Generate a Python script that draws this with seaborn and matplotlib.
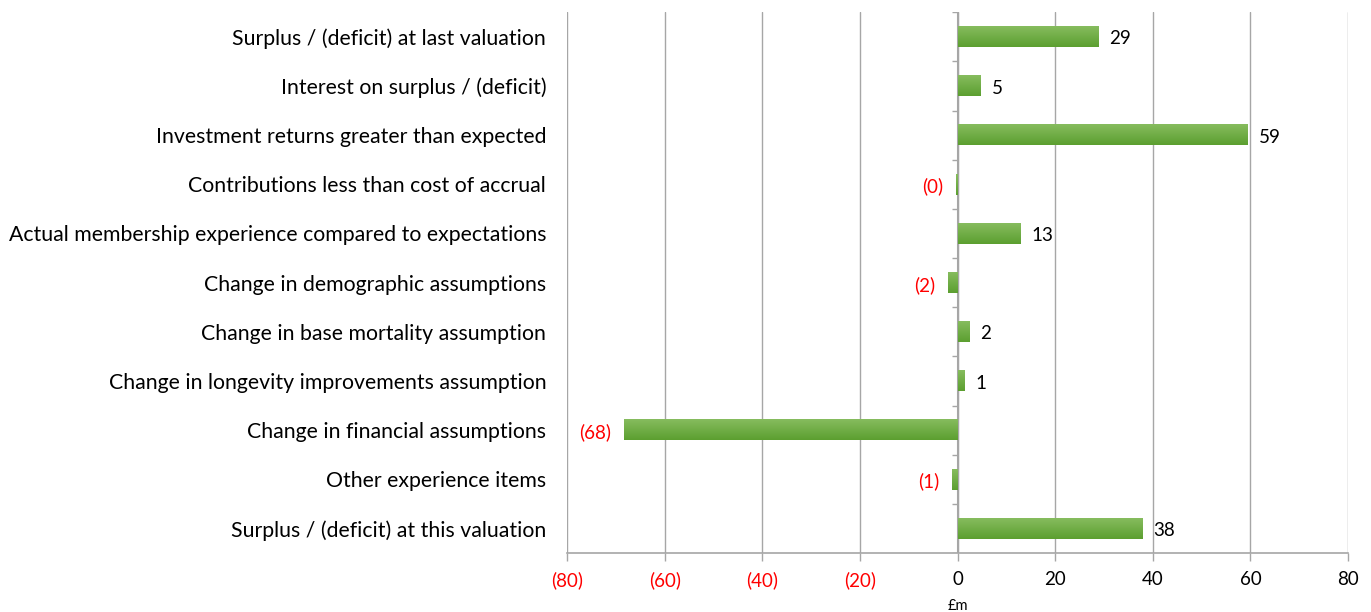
import numpy as np
import pandas as pd
import matplotlib
matplotlib.use("Agg")
import matplotlib.pyplot as plt
import seaborn as sns

# values (£m)
items = [
    "Surplus / (deficit) at last valuation",
    "Interest on surplus / (deficit)",
    "Investment returns greater than expected",
    "Contributions less than cost of accrual",
    "Actual membership experience compared to expectations",
    "Change in demographic assumptions",
    "Change in base mortality assumption",
    "Change in longevity improvements assumption",
    "Change in financial assumptions",
    "Other experience items",
    "Surplus / (deficit) at this valuation",
]
amounts = [28.7, 4.7, 59.4, -0.3, 12.9, -2.0, 2.4, 1.4, -68.4, -1.2, 37.7]
x_ticks = [-80, -60, -40, -20, 0, 20, 40, 60, 80]

df = pd.DataFrame({"item": items, "amount": amounts})

sns.set_style("white")
plt.rcParams["font.family"] = ["Lato", "DejaVu Sans"]
plt.rcParams["text.color"] = "black"
plt.rcParams["ytick.labelcolor"] = "black"
plt.rcParams["axes.labelcolor"] = "black"

fig = plt.figure(figsize=(13.71, 6.12), dpi=100)
ax = fig.add_axes([0.4136, 0.0964, 0.5697, 0.8836])

sns.barplot(data=df, x="amount", y="item", orient="h", width=0.42,
            color="#70ad47", ax=ax, zorder=3)

# gradient fill on each bar
grad = np.linspace(0, 1, 64).reshape(-1, 1)
cmap = matplotlib.colors.LinearSegmentedColormap.from_list("g", ["#86bc5e", "#5c9f30"])
for p in ax.patches:
    x0, y0 = p.get_x(), p.get_y()
    w, h = p.get_width(), p.get_height()
    ax.imshow(grad, cmap=cmap, aspect="auto", zorder=4,
              extent=[x0, x0 + w, y0 + h, y0], interpolation="bilinear")
    p.set_alpha(0)

ax.set_xlim(-80, 80)
n = len(items)
ax.set_ylim(n - 0.5, -0.5)

gc = "#a6a6a6"
ax.set_xticks(x_ticks)
ax.set_xticklabels([f"({abs(t)})" if t < 0 else str(t) for t in x_ticks], fontsize=13.5)
for lab, t in zip(ax.get_xticklabels(), x_ticks):
    lab.set_color("red" if t < 0 else "black")
ax.tick_params(axis="x", direction="out", length=6, color=gc, width=1, pad=7, bottom=True)
ax.xaxis.grid(True, color=gc, lw=1, zorder=0)

ax.tick_params(axis="y", length=0, pad=15, labelsize=15.3, labelcolor="black")
for s in ["top", "right", "left"]:
    ax.spines[s].set_visible(False)
ax.spines["bottom"].set_color(gc)
ax.spines["bottom"].set_linewidth(1.2)

# category axis at zero with boundary ticks
ax.axvline(0, color=gc, lw=1.5, zorder=2)
bounds = np.arange(n + 1) - 0.5
ax.hlines(bounds, -1.1, 0, color=gc, lw=1, zorder=2)

# data labels
for i, v in enumerate(amounts):
    r = int(round(abs(v)))
    if v < 0:
        ax.annotate(f"({r})", (v, i), xytext=(-9, -1.5), textcoords="offset points",
                    ha="right", va="center", color="red", fontsize=13.5)
    else:
        ax.annotate(f"{r}", (v, i), xytext=(8, -1.5), textcoords="offset points",
                    ha="left", va="center", color="black", fontsize=13.5)

ax.set_ylabel("")
ax.set_xlabel("£m", fontsize=10.5, color="black")
ax.xaxis.set_label_coords(0.5, -0.085)

fig.savefig("out.png", dpi=100)
